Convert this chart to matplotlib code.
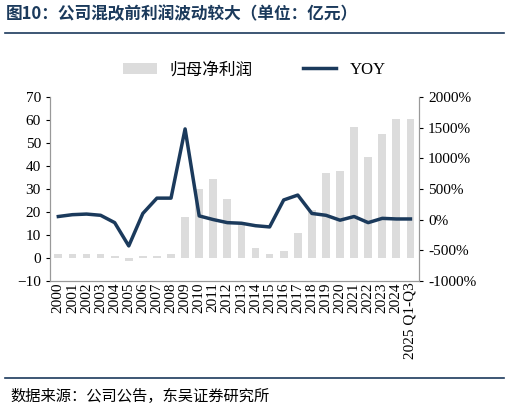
import matplotlib.pyplot as plt
import numpy as np
plt.rcParams['font.family'] = ['Noto Sans CJK SC', 'DejaVu Sans']

years = [str(y) for y in range(2000, 2025)] + ['2025 Q1-Q3']
profit = [1.5,1.5,1.5,1.5,1,-1.5,1,1,1.5,18,30,34.5,25.5,15,4.5,1.5,3,11,21,37,38,57,44,54,60.5,60.5]
yoy = [50,80,90,70,-50,-430,100,350,350,1480,60,0,-50,-60,-100,-120,320,400,100,70,-10,50,-50,20,10,10]

fig = plt.figure(figsize=(5.09, 4.13), dpi=100)
ax = fig.add_axes([0.098, 0.32, 0.725, 0.445])
x = np.arange(len(years))
ax.bar(x, profit, width=0.55, color='#dcdcdc', label='归母净利润')
ax.set_ylim(-10, 70)
ax.set_yticks(range(-10, 71, 10))
ax.set_xlim(-0.6, len(years) - 0.4)
ax.set_xticks(x)
ax.set_xticklabels(years, rotation=90, family='Liberation Serif', fontsize=11)
ax2 = ax.twinx()
ax2.plot(x, yoy, color='#1b3a5c', lw=2.5, label='YOY')
ax2.set_ylim(-1000, 2000)
ax2.set_yticks(range(-1000, 2001, 500))
ax2.set_yticklabels([f'{v}%' for v in range(-1000, 2001, 500)])
for a in (ax, ax2):
    a.tick_params(labelsize=11, length=3, direction='out')
    for lbl in a.get_yticklabels():
        lbl.set_family('Liberation Serif')
    for s in a.spines.values():
        s.set_color('#999999')
    a.spines['top'].set_visible(False)
ax.tick_params(axis='x', length=0, pad=1)
h1, l1 = ax.get_legend_handles_labels()
h2, l2 = ax2.get_legend_handles_labels()
fig.legend(h1 + h2, l1 + l2, loc='center', bbox_to_anchor=(0.5, 0.83), ncol=2, frameon=False,
           prop={'family': ['Liberation Serif', 'Noto Sans CJK SC'], 'size': 12}, columnspacing=3)
fig.text(0.012, 0.955, '图10：公司混改前利润波动较大（单位：亿元）', fontsize=12, weight='bold', color='#1b3a5c',
         family=['Noto Sans CJK SC'])
fig.add_artist(plt.Line2D([0.01, 0.99], [0.92, 0.92], color='#1b3a5c', lw=1.2))
fig.add_artist(plt.Line2D([0.01, 0.99], [0.085, 0.085], color='#1b3a5c', lw=1.2))
fig.text(0.02, 0.03, '数据来源：公司公告，东吴证券研究所', fontsize=11)
fig.savefig('out.png')
